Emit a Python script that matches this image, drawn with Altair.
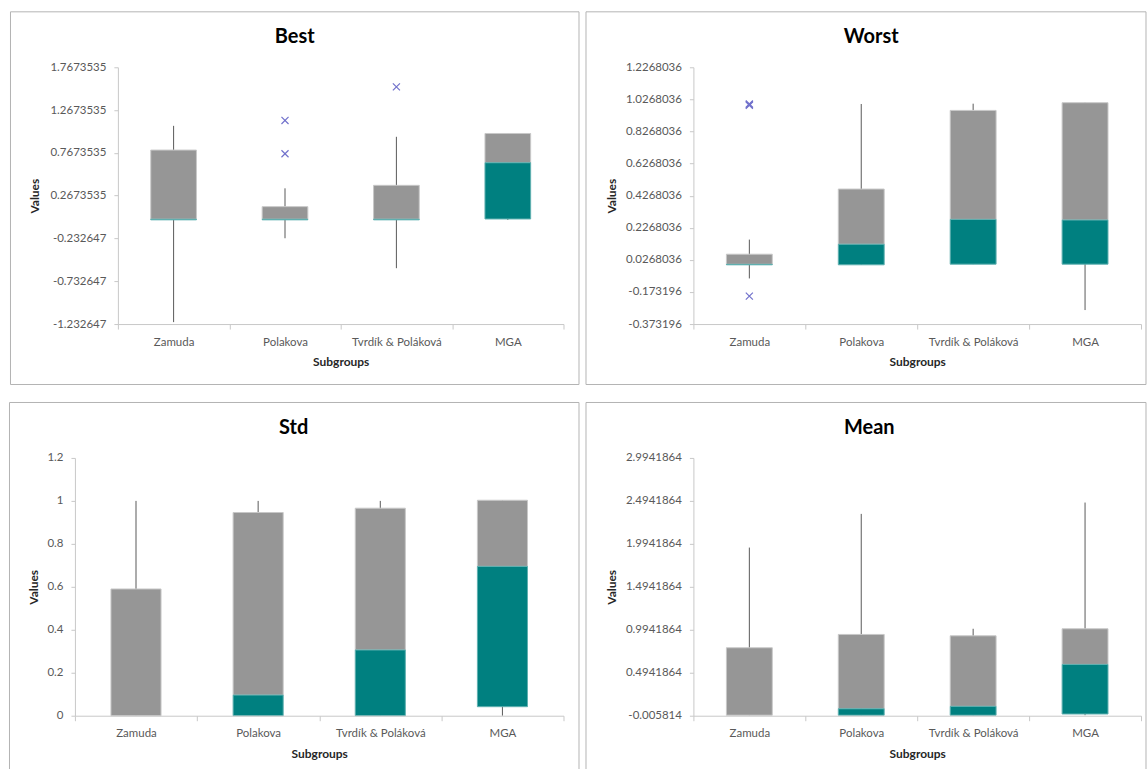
import altair as alt
import pandas as pd

groups = ["Zamuda", "Polakova", "Tvrdík & Poláková", "MGA"]

# Best
best_q1 = [-0.015, -0.015, -0.015, -0.005]
best_median = [-0.008, -0.008, -0.008, 0.652]
best_q3 = [0.800, 0.139, 0.388, 0.994]
best_low = [-1.210, -0.230, -0.580, -0.016]
best_high = [1.083, 0.353, 0.955, 0.994]
best_out_groups = ["Polakova", "Polakova", "Tvrdík & Poláková"]
best_out_values = [1.146, 0.757, 1.538]
best_ticks = [-1.232647, -0.732647, -0.232647, 0.2673535, 0.7673535, 1.2673535, 1.7673535]

# Worst
worst_q1 = [-0.004, -0.004, 0.000, 0.000]
worst_median = [-0.001, 0.124, 0.279, 0.275]
worst_q3 = [0.062, 0.468, 0.958, 1.006]
worst_low = [-0.089, -0.004, 0.000, -0.286]
worst_high = [0.153, 0.998, 1.000, 1.006]
worst_out_groups = ["Zamuda", "Zamuda", "Zamuda", "Zamuda"]
worst_out_values = [0.990, 0.994, 0.998, -0.199]
worst_ticks = [-0.373196, -0.173196, 0.0268036, 0.2268036, 0.4268036,
               0.6268036, 0.8268036, 1.0268036, 1.2268036]

# Std
std_q1 = [0.000, 0.000, 0.000, 0.042]
std_median = [0.000, 0.096, 0.306, 0.695]
std_q3 = [0.590, 0.946, 0.966, 1.003]
std_low = [0.000, 0.000, 0.000, 0.000]
std_high = [1.000, 1.000, 1.000, 1.003]
std_out_groups = []
std_out_values = []
std_ticks = [0, 0.2, 0.4, 0.6, 0.8, 1, 1.2]

# Mean
mean_q1 = [0.000, 0.000, 0.000, 0.014]
mean_median = [0.000, 0.075, 0.103, 0.591]
mean_q3 = [0.785, 0.940, 0.924, 1.006]
mean_low = [0.000, 0.000, 0.000, 0.000]
mean_high = [1.951, 2.343, 1.006, 2.475]
mean_out_groups = []
mean_out_values = []
mean_ticks = [-0.005814, 0.4941864, 0.9941864, 1.4941864, 1.9941864, 2.4941864, 2.9941864]

TEAL = "#008080"
TEAL_EDGE = "#5fb0b0"
GREY = "#969696"
GREY_EDGE = "#c8c8c8"
WHISKER = "#595959"
OUTLIER = "#7272cc"
FRAME = "#b4b4b4"
FONT = "Lato"


def panel(title, q1, median, q3, low, high, out_groups, out_values, ticks,
          width, height, frame, title_x, ytitle_x, x_start=0):
    df = pd.DataFrame({"group": groups, "q1": q1, "median": median,
                       "q3": q3, "low": low, "high": high})
    out_df = pd.DataFrame({"group": out_groups, "value": out_values})

    xscale = alt.Scale(domain=groups, paddingInner=0, paddingOuter=0,
                       range=[x_start, width])
    yscale = alt.Scale(domain=[ticks[0], ticks[-1]], nice=False, zero=False)

    x_axis = alt.Axis(title="Subgroups", labelAngle=0, tickBand="extent",
                      tickSize=5, labelPadding=7, titleY=37.5,
                      titleBaseline="middle", zindex=1)
    y_axis = alt.Axis(title="Values", values=ticks, labelExpr="'' + datum.value",
                      tickSize=4, labelPadding=8, titleAngle=270,
                      titleX=ytitle_x, titleY=height / 2, offset=-x_start,
                      titleBaseline="middle", titleAlign="center", zindex=1)

    def xenc():
        return alt.X("group:N", scale=xscale, axis=x_axis)

    base = alt.Chart(df)
    whiskers = base.mark_rule(color=WHISKER, strokeWidth=1).encode(
        x=xenc(),
        y=alt.Y("low:Q", scale=yscale, axis=y_axis, title="Values"),
        y2="high:Q")
    upper_box = base.mark_bar(width=alt.RelativeBandSize(band=0.41), color=GREY,
                              stroke=GREY_EDGE, strokeWidth=1).encode(
        x=xenc(),
        y=alt.Y("median:Q", scale=yscale, axis=y_axis, title="Values"),
        y2="q3:Q")
    # lower half of the box: only where the median sits above the first quartile
    lower_box = base.transform_filter("datum.median > datum.q1").mark_bar(
        width=alt.RelativeBandSize(band=0.41), color=TEAL,
        stroke=TEAL_EDGE, strokeWidth=1).encode(
        x=xenc(),
        y=alt.Y("q1:Q", scale=yscale, axis=y_axis, title="Values"),
        y2="median:Q")
    layers = [whiskers, upper_box, lower_box]
    if len(out_values):
        outliers = alt.Chart(out_df).mark_point(
            shape="M-1,-1L1,1M-1,1L1,-1", filled=False, color=OUTLIER,
            strokeWidth=1.2, size=50, opacity=1).encode(
            x=xenc(),
            y=alt.Y("value:Q", scale=yscale, axis=y_axis, title="Values"))
        layers.append(outliers)

    one = pd.DataFrame({"k": [0]})
    heading = alt.Chart(one).mark_text(
        text=title, font=FONT, fontSize=20, fontWeight="bold", color="#000000",
        align="center", baseline="alphabetic").encode(
        x=alt.value(title_x), y=alt.value(-24))
    border = alt.Chart(one).mark_rect(filled=False, stroke=FRAME, strokeWidth=1).encode(
        x=alt.value(frame[0]), x2=alt.value(frame[1]),
        y=alt.value(frame[2]), y2=alt.value(frame[3]))
    layers += [heading, border]
    return alt.layer(*layers).properties(width=width, height=height)


best = panel("Best", best_q1, best_median, best_q3, best_low, best_high,
             best_out_groups, best_out_values, best_ticks,
             489, 257, (-64.5, 504.5, -55.5, 317.5), 220, -83, x_start=43)
worst = panel("Worst", worst_q1, worst_median, worst_q3, worst_low, worst_high,
              worst_out_groups, worst_out_values, worst_ticks,
              448, 257, (-107.5, 453, -55.5, 317.5), 178, -82)
std = panel("Std", std_q1, std_median, std_q3, std_low, std_high,
            std_out_groups, std_out_values, std_ticks,
            489, 258, (-65.5, 504.5, -55.5, 312), 219, -41)
mean = panel("Mean", mean_q1, mean_median, mean_q3, mean_low, mean_high,
             mean_out_groups, mean_out_values, mean_ticks,
             448, 258, (-107.5, 453, -55.5, 312), 176, -82)

chart = alt.concat(
    best, worst, std, mean,
    columns=2, bounds="flush", align="all",
    spacing={"row": 133, "column": 130},
).properties(
    padding={"left": 8, "top": 10, "right": 0, "bottom": 0},
    background="#ffffff",
).configure_view(
    stroke="transparent"
).configure_axis(
    grid=False,
    domainColor="#c8c8c8",
    tickColor="#c8c8c8",
    labelFont=FONT,
    labelFontSize=11.5,
    labelColor="#595959",
    titleFont=FONT,
    titleFontSize=12,
    titleFontWeight="bold",
    titleColor="#262626",
)

chart.save("out.html", embed_options={"renderer": "svg", "actions": False})
